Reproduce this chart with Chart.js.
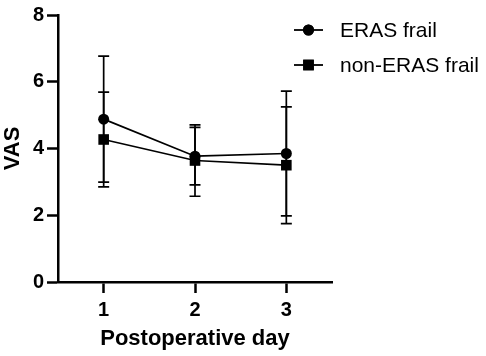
<!DOCTYPE html>
<html>
<head>
<meta charset="utf-8">
<script src="https://cdn.jsdelivr.net/npm/chart.js@4"></script>
<style>
  html, body { margin: 0; padding: 0; background: #fff; }
  #wrap { width: 486px; height: 356px; }
</style>
</head>
<body>
<div id="wrap"><canvas id="vasChart" width="486" height="356"></canvas></div>
<script>
// values
const days = [1, 2, 3];
const erasMean = [4.88, 3.77, 3.85];
const erasSd = [1.89, 0.86, 1.87];
const nonErasMean = [4.27, 3.64, 3.50];
const nonErasSd = [1.42, 1.07, 1.75];
const yTicks = [0, 2, 4, 6, 8];

const FONT = "'Liberation Sans', Arial, sans-serif";

function toPoints(mean) {
  return days.map((d, i) => ({ x: d, y: mean[i] }));
}

// error bars drawn under the markers
const errorBars = {
  id: 'errorBars',
  beforeDatasetsDraw(chart) {
    const ctx = chart.ctx;
    const xs = chart.scales.x, ys = chart.scales.y;
    ctx.save();
    ctx.strokeStyle = '#000';
    ctx.lineWidth = 1.7;
    chart.data.datasets.forEach(ds => {
      ds.data.forEach((p, i) => {
        const sd = ds.sd[i];
        const px = xs.getPixelForValue(p.x);
        const top = ys.getPixelForValue(p.y + sd);
        const bot = ys.getPixelForValue(p.y - sd);
        ctx.beginPath();
        ctx.moveTo(px, top); ctx.lineTo(px, bot);
        ctx.moveTo(px - 5.5, top); ctx.lineTo(px + 5.5, top);
        ctx.moveTo(px - 5.5, bot); ctx.lineTo(px + 5.5, bot);
        ctx.stroke();
      });
    });
    ctx.restore();
  }
};

// legend: short line with the marker through it, then the label
const lineLegend = {
  id: 'lineLegend',
  afterDraw(chart) {
    const ctx = chart.ctx;
    ctx.save();
    chart.data.datasets.forEach((ds, i) => {
      const y = 30 + i * 35;
      ctx.strokeStyle = '#000';
      ctx.lineWidth = 1.8;
      ctx.beginPath();
      ctx.moveTo(294, y); ctx.lineTo(323, y);
      ctx.stroke();
      ctx.fillStyle = '#000';
      Chart.helpers.drawPoint(ctx, { pointStyle: ds.pointStyle, radius: ds.pointRadius, borderWidth: 0 }, 308.5, y);
      ctx.fill();
      ctx.font = '21px ' + FONT;
      ctx.textBaseline = 'middle';
      ctx.fillText(ds.label, 340, y + 1);
    });
    ctx.restore();
  }
};

new Chart(document.getElementById('vasChart'), {
  type: 'line',
  data: {
    datasets: [
      {
        label: 'ERAS frail',
        data: toPoints(erasMean),
        sd: erasSd,
        borderColor: '#000',
        backgroundColor: '#000',
        borderWidth: 1.7,
        pointStyle: 'circle',
        pointRadius: 5.5,
        pointBorderWidth: 0
      },
      {
        label: 'non-ERAS frail',
        data: toPoints(nonErasMean),
        sd: nonErasSd,
        borderColor: '#000',
        backgroundColor: '#000',
        borderWidth: 1.7,
        pointStyle: 'rect',
        pointRadius: 7.5,
        pointBorderWidth: 0
      }
    ]
  },
  options: {
    responsive: false,
    animation: false,
    layout: { padding: { top: 9, right: 154, left: 0, bottom: 0 } },
    plugins: {
      legend: { display: false },
      tooltip: { enabled: false }
    },
    scales: {
      x: {
        type: 'linear',
        min: 0.5,
        max: 3.5,
        afterBuildTicks: s => { s.ticks = days.map(v => ({ value: v })); },
        afterFit: s => { s.height = 74; },
        grid: { drawOnChartArea: false, drawTicks: true, tickLength: 11, tickWidth: 2.5, tickColor: '#000' },
        border: { color: '#000', width: 2.5 },
        ticks: { color: '#000', padding: 5, font: { family: FONT, size: 20, weight: 'bold' } },
        title: { display: true, text: 'Postoperative day', color: '#000', padding: { top: 1 }, font: { family: FONT, size: 22, weight: 'bold' } }
      },
      y: {
        min: 0,
        max: 8,
        afterBuildTicks: s => { s.ticks = yTicks.map(v => ({ value: v })); },
        afterFit: s => { s.width = 58; },
        grid: { drawOnChartArea: false, drawTicks: true, tickLength: 11, tickWidth: 2.5, tickColor: '#000' },
        border: { color: '#000', width: 2.5 },
        ticks: { color: '#000', padding: 3, font: { family: FONT, size: 20, weight: 'bold' } },
        title: { display: true, text: 'VAS', color: '#000', padding: 0, font: { family: FONT, size: 22, weight: 'bold' } }
      }
    }
  },
  plugins: [errorBars, lineLegend]
});
</script>
</body>
</html>
